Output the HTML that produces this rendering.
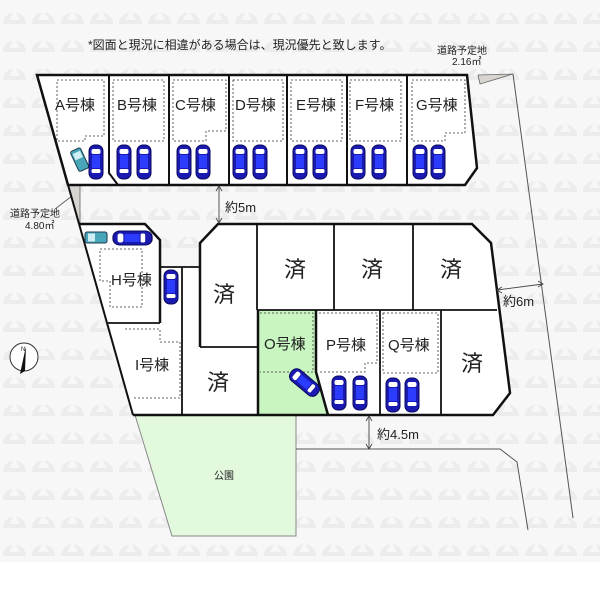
<!DOCTYPE html>
<html><head><meta charset="utf-8"><style>
html,body{margin:0;padding:0;background:#fff}
svg{display:block}
text{font-family:"Liberation Sans","Noto Sans CJK JP",sans-serif;fill:#222}
</style></head><body>
<svg width="600" height="600" viewBox="0 0 600 600" xmlns="http://www.w3.org/2000/svg">
<defs>
<pattern id="wm" width="29" height="28" patternUnits="userSpaceOnUse">
<rect width="29" height="28" fill="#f7f7f7"/>
<path d="M3 24 A11.5 11.5 0 1 1 26 24 Z" fill="#ececec"/>
<path d="M9 20 L14.5 10 L20 20 Z" fill="#f7f7f7"/>
</pattern>
<g id="car">
<rect x="0" y="0" width="14" height="34" rx="6" fill="#1a1ab0" stroke="#0a0a60" stroke-width="1"/>
<rect x="2.5" y="4" width="9" height="5" rx="2" fill="#fff"/>
<rect x="3" y="10" width="8" height="13" fill="#2b3cff"/>
<rect x="2.5" y="24" width="9" height="4" rx="1.5" fill="#fff"/>
</g>
<g id="tcar">
<rect x="0" y="0" width="11" height="22" rx="2" fill="#49a6b8" stroke="#1a3a50"/>
<rect x="1.5" y="3" width="8" height="7" fill="#cfeff5"/>
</g>
</defs>
<rect x="0" y="0" width="600" height="562" fill="url(#wm)"/>

<text x="88" y="49" font-size="12">*図面と現況に相違がある場合は、現況優先と致します。</text>
<text x="437" y="54" font-size="10">道路予定地</text>
<text x="452" y="65" font-size="10">2.16㎡</text>
<polygon points="478,75 480,84 513,74" fill="#d8d4d0" stroke="#666" stroke-width="0.8"/>
<line x1="513" y1="74" x2="573" y2="518" stroke="#555" stroke-width="1"/>

<polygon points="68,185 80,185 80,224 79,224" fill="#d8d4d0" stroke="#666" stroke-width="0.8"/>
<line x1="55" y1="209" x2="72" y2="196" stroke="#555" stroke-width="0.8"/>
<text x="10" y="217" font-size="10">道路予定地</text>
<text x="25" y="229" font-size="10">4.80㎡</text>

<polygon points="135,415 296,415 296,536 172,536" fill="#e2f9de" stroke="#888" stroke-width="1"/>
<text x="214" y="479" font-size="10">公園</text>
<polyline points="296,449 500,449 517,462 528,530" fill="none" stroke="#555" stroke-width="1"/>

<g fill="#fff" stroke="#111" stroke-width="2.5">
<polygon points="37,75 467,75 477,168 465,185 68,185"/>
</g>
<g stroke="#111" stroke-width="2" fill="none">
<polyline points="109,75 109,173 118,185"/>
<line x1="169" y1="75" x2="169" y2="185"/>
<line x1="229" y1="75" x2="229" y2="185"/>
<line x1="287" y1="75" x2="287" y2="185"/>
<line x1="347" y1="75" x2="347" y2="185"/>
<line x1="407" y1="75" x2="407" y2="185"/>
</g>
<g stroke="#333" stroke-width="0.8" stroke-dasharray="2,2" fill="none">
<polyline points="57,80 104,80 104,136 85,136 85,141 57,141 57,80"/>
<rect x="113" y="80" width="51" height="61"/>
<polyline points="173,80 226,80 226,131 206,131 206,141 173,141 173,80"/>
<rect x="233" y="80" width="50" height="61"/>
<rect x="291" y="80" width="51" height="61"/>
<rect x="350" y="80" width="51" height="61"/>
<polyline points="412,80 465,80 465,133 445,133 445,141 412,141 412,80"/>
</g>
<g font-size="15">
<text x="55" y="110">A号棟</text><text x="117" y="110">B号棟</text>
<text x="175" y="110">C号棟</text><text x="235" y="110">D号棟</text>
<text x="296" y="110">E号棟</text><text x="355" y="110">F号棟</text>
<text x="416" y="110">G号棟</text>
</g>
<use href="#tcar" transform="translate(70,152) rotate(-25)"/>
<use href="#car" x="89" y="145"/>
<use href="#car" x="117" y="145"/><use href="#car" x="137" y="145"/>
<use href="#car" x="177" y="145"/><use href="#car" x="196" y="145"/>
<use href="#car" x="233" y="145"/><use href="#car" x="253" y="145"/>
<use href="#car" x="293" y="145"/><use href="#car" x="313" y="145"/>
<use href="#car" x="351" y="145"/><use href="#car" x="372" y="145"/>
<use href="#car" x="413" y="145"/><use href="#car" x="431" y="145"/>

<polygon points="79,224 145,224 160,240 160,267 200,267 200,243 218,224 472,224 491,243 510,393 493,415 133,415" fill="#fff" stroke="none"/>
<polygon points="258,310 316,310 316,372 328,415 258,415" fill="#c8f5c0"/>
<g stroke="#111" stroke-width="2.5" fill="none">
<polyline points="79,224 145,224 160,240 160,323"/>
<polyline points="200,347 200,243 218,224 472,224 491,243 510,393 493,415 133,415"/>
<polyline points="258,310 258,415"/>
<polyline points="316,310 316,372 328,415"/>
</g>
<g stroke="#111" stroke-width="1.8" fill="none">
<polyline points="108,323 160,323"/>
<line x1="160" y1="267" x2="200" y2="267"/>
<line x1="182" y1="267" x2="182" y2="415"/>
<line x1="200" y1="347" x2="257" y2="347"/>
<line x1="257" y1="224" x2="257" y2="310"/>
<line x1="257" y1="310" x2="497" y2="310"/>
<line x1="334" y1="224" x2="334" y2="310"/>
<line x1="413" y1="224" x2="413" y2="310"/>
<line x1="380" y1="310" x2="380" y2="415"/>
<line x1="441" y1="310" x2="441" y2="415"/>
</g>
<line x1="37" y1="75" x2="133" y2="415" stroke="#111" stroke-width="2"/>
<g stroke="#333" stroke-width="0.8" stroke-dasharray="2,2" fill="none">
<polyline points="100,249 142,249 142,307 110,307 110,281 100,281 100,249"/>
<polyline points="125,329 160,329 160,342 180,342 180,398 133,398"/>
<polyline points="260,313 313,313 313,372 260,372"/>
<polyline points="319,313 377,313 377,363 365,363 365,372 319,372"/>
<rect x="383" y="313" width="55" height="60"/>
</g>
<g font-size="15">
<text x="111" y="285">H号棟</text><text x="135" y="370">I号棟</text>
<text x="264" y="349">O号棟</text><text x="326" y="350">P号棟</text>
<text x="388" y="350">Q号棟</text>
</g>
<g font-size="22">
<text x="213" y="302">済</text><text x="284" y="277">済</text>
<text x="361" y="277">済</text><text x="440" y="277">済</text>
<text x="207" y="390">済</text><text x="461" y="371">済</text>
</g>
<use href="#tcar" transform="translate(85,243) rotate(-90)"/>
<use href="#car" transform="translate(113,245) rotate(-90) scale(1,1.15)"/>
<use href="#car" x="164" y="270"/>
<use href="#car" transform="translate(287,377) rotate(-50)"/>
<use href="#car" x="332" y="376"/><use href="#car" x="353" y="376"/>
<use href="#car" x="386" y="378"/><use href="#car" x="405" y="378"/>

<g stroke="#444" stroke-width="0.9" fill="none">
<line x1="219" y1="186" x2="219" y2="223"/>
<polyline points="216,191 219,186 222,191"/><polyline points="216,218 219,223 222,218"/>
<line x1="497" y1="290" x2="543" y2="284"/>
<polyline points="502,287 497,290 502,293"/><polyline points="538,281 543,284 538,287"/>
<line x1="369" y1="416" x2="369" y2="449"/>
<polyline points="366,421 369,416 372,421"/><polyline points="366,444 369,449 372,444"/>
</g>
<text x="225" y="212" font-size="13">約5m</text>
<text x="503" y="306" font-size="13">約6m</text>
<text x="377" y="439" font-size="13">約4.5m</text>

<circle cx="24" cy="357" r="14" fill="#fff" stroke="#333"/>
<polygon points="26,346 20,374 25,371" fill="#111"/>
<text x="21" y="351" font-size="6">N</text>
</svg>
</body></html>
